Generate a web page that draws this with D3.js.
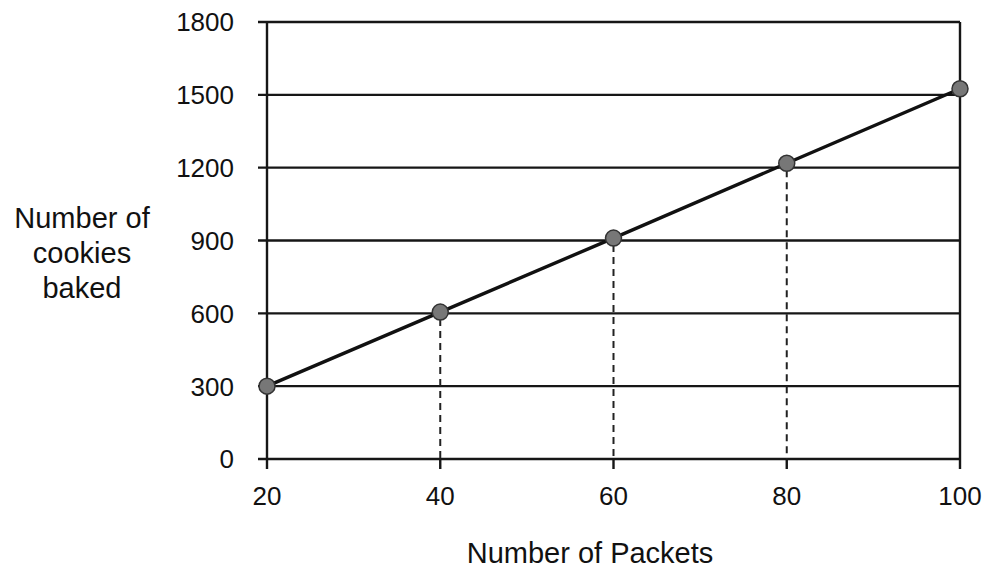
<!DOCTYPE html>
<meta charset="utf-8">
<style>
  body { margin: 0; background: #fff; }
  text { font-family: "Liberation Sans", Arial, sans-serif; fill: #111; }
  .grid line { stroke: #161616; stroke-width: 2.4; }
  .drop { stroke: #222; stroke-width: 2; stroke-dasharray: 7 5; }
</style>
<body>
<div id="chart"></div>
<script src="https://d3js.org/d3.v7.min.js"></script>
<script>
  // values
  var packets = [20, 40, 60, 80, 100];
  var cookies = [300, 605, 910, 1218, 1525];
  var yTicks = [0, 300, 600, 900, 1200, 1500, 1800];
  var xTicks = [20, 40, 60, 80, 100];

  var margin = {top: 22, right: 30, bottom: 111, left: 267},
    width = 990 - margin.left - margin.right,
    height = 570 - margin.top - margin.bottom;

  var x = d3.scaleLinear().domain([20, 100]).range([0, 693]);
  var y = d3.scaleLinear().domain([0, 1800]).range([height, 0]);

  var svg = d3.select("#chart").append("svg")
    .attr("width", 990)
    .attr("height", 570);

  var g = svg.append("g")
    .attr("transform", "translate(" + margin.left + "," + margin.top + ")");

  // horizontal grid lines with small ticks sticking out left
  g.append("g")
    .attr("class", "grid")
    .selectAll("line")
    .data(yTicks)
    .enter().append("line")
    .attr("x1", -9)
    .attr("x2", x(100))
    .attr("y1", function(d) { return y(d); })
    .attr("y2", function(d) { return y(d); });

  // left and right borders, extending a bit below the axis
  g.append("g")
    .attr("class", "grid")
    .selectAll("line")
    .data([20, 100])
    .enter().append("line")
    .attr("x1", function(d) { return x(d); })
    .attr("x2", function(d) { return x(d); })
    .attr("y1", y(1800))
    .attr("y2", height + 10);

  // small ticks below the axis for inner categories
  g.append("g")
    .attr("class", "grid")
    .selectAll("line")
    .data([40, 60, 80])
    .enter().append("line")
    .attr("x1", function(d) { return x(d); })
    .attr("x2", function(d) { return x(d); })
    .attr("y1", height)
    .attr("y2", height + 10);

  // y tick labels
  g.selectAll(".ylab")
    .data(yTicks)
    .enter().append("text")
    .attr("class", "ylab")
    .attr("x", -33)
    .attr("y", function(d) { return y(d); })
    .attr("dy", "0.36em")
    .attr("text-anchor", "end")
    .style("font-size", "26px")
    .text(function(d) { return d; });

  // x tick labels
  g.selectAll(".xlab")
    .data(xTicks)
    .enter().append("text")
    .attr("class", "xlab")
    .attr("x", function(d) { return x(d); })
    .attr("y", height + 46)
    .attr("text-anchor", "middle")
    .style("font-size", "26px")
    .text(function(d) { return d; });

  // dashed drop lines from inner points
  var pts = packets.map(function(p, i) { return {p: p, c: cookies[i]}; });
  g.selectAll(".drop")
    .data(pts.filter(function(d) { return d.p > 20 && d.p < 100; }))
    .enter().append("line")
    .attr("class", "drop")
    .attr("x1", function(d) { return x(d.p); })
    .attr("x2", function(d) { return x(d.p); })
    .attr("y1", function(d) { return y(d.c) + 7; })
    .attr("y2", height);

  // the line
  var line = d3.line()
    .x(function(d) { return x(d.p); })
    .y(function(d) { return y(d.c); });

  g.append("path")
    .datum(pts)
    .attr("d", line)
    .attr("fill", "none")
    .attr("stroke", "#111")
    .attr("stroke-width", 3.4);

  g.selectAll(".pt")
    .data(pts)
    .enter().append("circle")
    .attr("class", "pt")
    .attr("cx", function(d) { return x(d.p); })
    .attr("cy", function(d) { return y(d.c); })
    .attr("r", 8)
    .attr("fill", "#777")
    .attr("stroke", "#333")
    .attr("stroke-width", 1.5);

  // axis titles
  svg.append("text")
    .attr("x", 590)
    .attr("y", 563)
    .attr("text-anchor", "middle")
    .style("font-size", "29px")
    .text("Number of Packets");

  var yt = svg.append("text")
    .attr("text-anchor", "middle")
    .style("font-size", "29px");
  ["Number of", "cookies", "baked"].forEach(function(s, i) {
    yt.append("tspan")
      .attr("x", 82)
      .attr("y", 228 + i * 35)
      .text(s);
  });
</script>
</body>
